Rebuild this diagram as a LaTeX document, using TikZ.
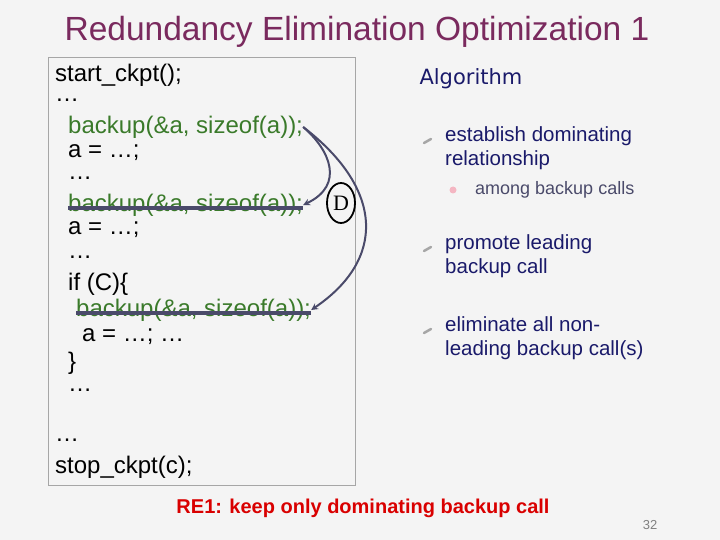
\documentclass[tikz,border=0pt]{standalone}
\usepackage{fontspec}
\usetikzlibrary{shapes.geometric}
\setmainfont{Liberation Sans}
\newfontfamily\dv{DejaVu Sans}
\definecolor{ttl}{HTML}{7A2A5E}
\definecolor{navy}{HTML}{1A1A6A}
\definecolor{grn}{HTML}{3A7A2A}
\definecolor{arr}{HTML}{4A4A6A}
\definecolor{bg}{HTML}{F4F4F4}
\tikzset{code/.style={anchor=west,font=\fontsize{24}{26}\selectfont,inner sep=0pt},
 bk/.style={code,text=grn},
 bl/.style={anchor=north west,font=\fontsize{20.5}{24}\selectfont,text=navy,align=left,inner sep=0pt},
 sw/.style={draw=gray!70,line width=2.5pt,line cap=round},
 strike/.style={arr,line width=3.5pt},
 carr/.style={arr,line width=2pt,-stealth}}
\begin{document}
\begin{tikzpicture}[x=1pt,y=-1pt]
\fill[bg] (0,0) rectangle (720,540);
\useasboundingbox (0,0) rectangle (720,540);
\node[font=\fontsize{33.5}{36}\selectfont,text=ttl] (title) at (357,32) {Redundancy Elimination Optimization 1};
\draw[gray!70,line width=0.8pt] (48,57) rectangle (355,485);
\node[code] (l1) at (55,75) {start\_ckpt();};
\node[code] (l2) at (55,100) {\dots};
\node[bk] (b1) at (68,127) {backup(\&a, sizeof(a));};
\node[code] (l4) at (68,153) {a = \dots;};
\node[code] (l5) at (68,178) {\dots};
\node[bk] (b2) at (68,205) {backup(\&a, sizeof(a));};
\node[code] (l7) at (68,230) {a = \dots;};
\node[code] (l8) at (68,257) {\dots};
\node[code] (l9) at (68,284) {if (C)\{};
\node[bk] (b3) at (76,310) {backup(\&a, sizeof(a));};
\node[code] (l11) at (82,337) {a = \dots; \dots};
\node[code] (l12) at (68,363) {\}};
\node[code] (l13) at (68,390) {\dots};
\node[code] (l14) at (55,440) {\dots};
\node[code] (l15) at (55,467) {stop\_ckpt(c);};
\draw[strike] (b2.west|-0,208) -- (b2.east|-0,208);
\draw[strike] (b3.west|-0,313) -- (b3.east|-0,313);
\coordinate (s) at (b1.east);
\draw[carr] (s) .. controls (330,150) and (345,185) .. (b2.east);
\draw[carr] (s) .. controls (385,190) and (385,260) .. (b3.east);
\node[draw=black,line width=1.8pt,ellipse,minimum width=28pt,minimum height=40pt,inner sep=0pt,font=\fontsize{22}{24}\selectfont] (D) at (341,203) {\fontspec{Liberation Serif}D};
\node[font=\dv\fontsize{21}{24}\selectfont,text=navy,anchor=west] (alg) at (416,79) {Algorithm};
\draw[sw] (424,143) -- (431,139);
\node[bl] (t1) at (445,126) {establish dominating\\relationship};
\fill[pink!70!purple!60] (453,190) circle (3.5pt);
\node[anchor=west,font=\fontsize{18}{20}\selectfont,text=arr,inner sep=0pt] (t2) at (475,190) {among backup calls};
\draw[sw] (424,251) -- (431,247);
\node[bl] (t3) at (445,234) {promote leading\\backup call};
\draw[sw] (424,333) -- (431,329);
\node[bl] (t4) at (445,316) {eliminate all non-\\leading backup call(s)};
\node[font=\bfseries\fontsize{20}{22}\selectfont,text=red!85!black] (re) at (363,508) {RE1: keep only dominating backup call};
\node[font=\fontsize{13}{14}\selectfont,text=gray] (pg) at (650,525) {32};
\end{tikzpicture}
\end{document}
